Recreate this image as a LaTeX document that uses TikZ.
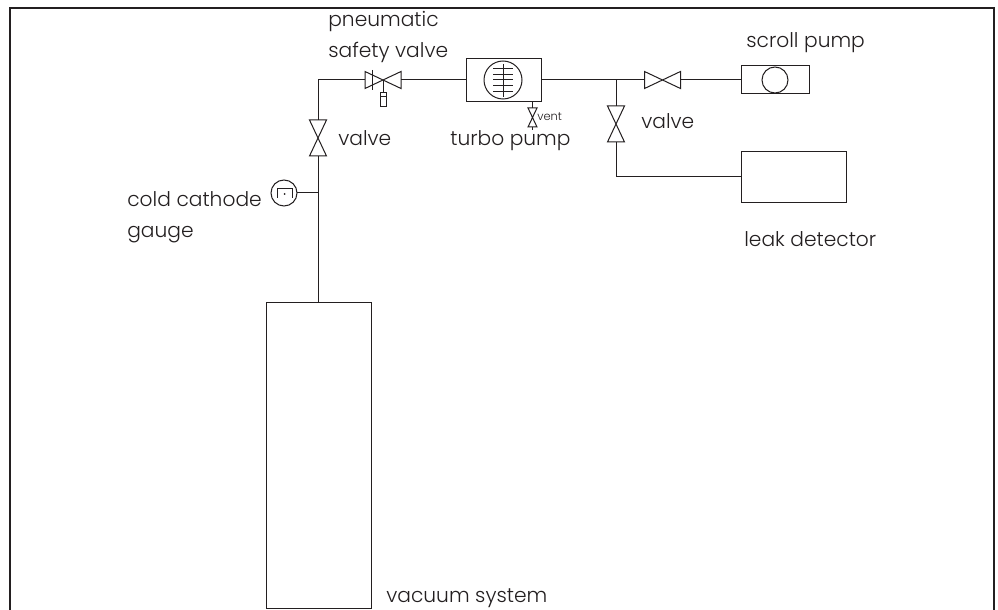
\documentclass[tikz,border=0pt]{standalone}
\usepackage{fontspec}
\setmainfont{Poppins Light}
\usepackage{tikz}
\usetikzlibrary{positioning}
\definecolor{vacblack}{RGB}{35,31,32}
\tikzset{
  pipe/.style={vacblack,line width=0.2mm},
  box/.style={draw=vacblack,line width=0.2mm,inner sep=0pt,outer sep=0pt},
  hvalve/.style={minimum width=#1,minimum height=3.4mm,inner sep=0pt,outer sep=0pt,
    append after command={(\tikzlastnode.south west) -- (\tikzlastnode.north east) -- (\tikzlastnode.south east) -- (\tikzlastnode.north west) -- cycle}},
  vvalve/.style={minimum width=#1,minimum height=7.2mm,inner sep=0pt,outer sep=0pt,
    append after command={(\tikzlastnode.north west) -- (\tikzlastnode.south east) -- (\tikzlastnode.south west) -- (\tikzlastnode.north east) -- cycle}},
  lbl/.style={anchor=base west,inner sep=0pt,text=vacblack,font=\fontsize{11.5}{14}\selectfont},
}
\begin{document}
\begin{tikzpicture}[x=0.2mm,y=-0.2mm]
\useasboundingbox (0,0) rectangle (998,610);
% Outer frame, open at the bottom
\draw[vacblack,line width=0.4mm] (10,610) -- (10,8) -- (994,8) -- (994,610);
% Boxes
\node[box,minimum width=21mm,minimum height=61mm] (vacuum) at (319,455.5) {};
\node[box,minimum width=15mm,minimum height=8.6mm] (turbo) at (503.5,80) {};
\node[box,minimum width=13.6mm,minimum height=5.6mm] (scroll) at (775,80) {};
\node[box,minimum width=21mm,minimum height=10.2mm] (leak) at (793.5,177.5) {};
% Gauge
\node[box,circle,minimum size=5.2mm] (gauge) at (284,193) {};
\draw[pipe] (277,198) -- (277,189) -- (292,189) -- (292,198);
\fill[vacblack] (284.5,194) circle (1);
% Pump rotors
\node[box,circle,minimum size=7.6mm] (rotor) at (503,80) {};
\node[box,circle,minimum size=5.2mm] (scrollrotor) at (775,80) {};
\draw[pipe] (503,64) -- (503,97);
\foreach \yy in {69,75,80,86,92}
  \draw[pipe] (493,\yy) -- (513,\yy);
% Valves
\path[draw=vacblack,line width=0.2mm] (318,138) node[vvalve=3.4mm] (mainvalve) {};
\path[draw=vacblack,line width=0.2mm] (383,80) node[hvalve=7.2mm] (safety) {};
\path[draw=vacblack,line width=0.2mm] (662.5,80) node[hvalve=7.2mm] (scrollvalve) {};
\path[draw=vacblack,line width=0.2mm] (616,124) node[vvalve=3.4mm] (leakvalve) {};
\path[draw=vacblack,line width=0.2mm] (532.5,117.5) node[vvalve=1.8mm,minimum height=3.8mm] (vent) {};
% Safety valve actuator
\node[box,minimum width=1.2mm,minimum height=2.8mm] (actuator) at (383,100) {};
\draw[pipe] (372.5,70) -- (372.5,90);
\draw[pipe] (380,96.5) -- (386,96.5);
\draw[pipe] (safety.center) -- (actuator.north);
% Pipes
\coordinate (corner) at (318,80);
\coordinate (branch) at (616,80);
\coordinate (tee) at (318,193);
\coordinate (elbow) at (616,177);
\coordinate (ventend) at (532.5,130);
\draw[pipe] (vacuum.north -| tee) -- (mainvalve.south);
\draw[pipe] (mainvalve.north) -- (corner) -- (safety.west);
\draw[pipe] (gauge.east) -- (tee);
\draw[pipe] (safety.east) -- (turbo.west);
\draw[pipe] (turbo.east) -- (scrollvalve.west);
\draw[pipe] (scrollvalve.east) -- (scroll.west);
\draw[pipe] (branch) -- (leakvalve.north);
\draw[pipe] (leakvalve.south) -- (elbow) -- (leak.west |- elbow);
\draw[pipe] (vent.north |- turbo.south) -- (vent.north);
\draw[pipe] (vent.south) -- (ventend);
% Labels
\node[lbl] (lpneu) at (328,27) {pneumatic};
\node[lbl] (lsafety) at (328,58) {safety valve};
\node[lbl] (lvalve) at (338,146) {valve};
\node[lbl] (lturbo) at (450,146) {turbo pump};
\node[lbl,font=\fontsize{6.5}{8}\selectfont] (lvent) at (537,121) {vent};
\node[lbl] (lscroll) at (746,48) {scroll pump};
\node[lbl] (lvalvetwo) at (641,129) {valve};
\node[lbl] (lleak) at (744,247) {leak detector};
\node[lbl] (lcold) at (127,207) {cold cathode};
\node[lbl] (lgauge) at (127,237) {gauge};
\node[lbl] (lvacuum) at (386,602) {vacuum system};
\end{tikzpicture}
\end{document}
